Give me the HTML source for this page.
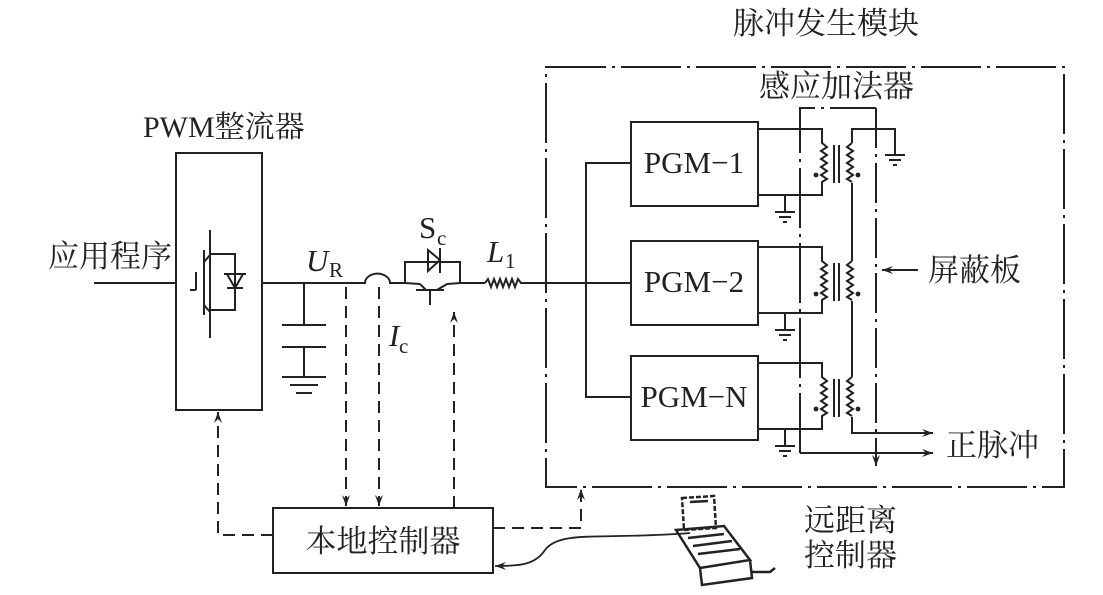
<!DOCTYPE html>
<html><head><meta charset="utf-8"><style>
html,body{margin:0;padding:0;background:#fff;width:1103px;height:595px;overflow:hidden}
svg{display:block}
.t{font-family:"Liberation Serif","Noto Serif CJK SC",serif;fill:#222}
.c{font-family:"Liberation Serif","Noto Serif CJK SC","Noto Sans CJK SC",serif;fill:#222}
</style></head><body>
<svg width="1103" height="595" viewBox="0 0 1103 595" xmlns="http://www.w3.org/2000/svg">
<defs>
<marker id="a" markerWidth="12" markerHeight="10" refX="11" refY="5" orient="auto" markerUnits="userSpaceOnUse"><path d="M0,1 L11,5 L0,9 L4,5 Z" fill="#222"/></marker>
</defs>
<g stroke="#222" stroke-width="2" fill="none">
<rect x="546" y="67" width="518" height="420" stroke-dasharray="60,6,3,6"/>
<rect x="176" y="153" width="86" height="257"/>
<line x1="94" y1="283" x2="176" y2="283"/>
<line x1="210" y1="230" x2="210" y2="338"/>
<line x1="204" y1="250" x2="204" y2="315"/>
<line x1="196" y1="272" x2="196" y2="290"/><line x1="190" y1="290" x2="196" y2="290"/>
<path d="M210 255 L204 262 M204 305 L210 312"/>
<path d="M210 254 L235 254 L235 310 L210 310"/>
<path d="M224 274 L246 274 M227 288 L243 288 M227 274 L235 288 L243 274"/>
<path d="M262 283 L365 283 A12 9 0 0 1 390 283 L405 283"/>
<line x1="304" y1="283" x2="304" y2="325"/>
<line x1="282" y1="325" x2="326" y2="325"/>
<line x1="282" y1="347" x2="326" y2="347"/>
<line x1="304" y1="347" x2="304" y2="377"/>
<line x1="282" y1="377" x2="326" y2="377"/>
<line x1="290" y1="385" x2="318" y2="385"/>
<line x1="296" y1="393" x2="312" y2="393"/>
<path d="M405 283 L405 262 L460 262 L460 283"/>
<path d="M416 290 L444 290 M430 290 L430 305 M420 284 L426 290 M437 290 L447 284"/>
<path d="M405 283 L420 284 M447 284 L460 283" />
<path d="M440 248 L440 273 M440 260 L428 250 L428 271 Z"/>
<line x1="460" y1="283" x2="485" y2="283"/>
<path d="M485 283 l3,-4 l3,8 l3,-8 l3,8 l3,-8 l3,8 l3,-8 l3,8 l3,-8 l3,8 l3,-8 l3,4 L546 283 L586 283"/>
<path d="M631 163 L586 163 L586 397 L631 397"/>
<line x1="586" y1="283" x2="631" y2="283"/>
<rect x="631" y="122" width="127" height="84"/>
<rect x="631" y="241" width="127" height="84"/>
<rect x="631" y="356" width="127" height="84"/>
</g>
<g stroke="#222" stroke-width="2" fill="none">
<g id="tr">
<path d="M758 129 L822 129 L822 143 l5,4 l-6,4 l6,4 l-6,4 l6,4 l-6,4 l6,4 l-6,4 l6,4 l-5,3 L822 195 L758 195"/>
<line x1="834" y1="145" x2="834" y2="183"/><line x1="839" y1="145" x2="839" y2="183"/>
<path d="M852 143 l-5,4 l6,4 l-6,4 l6,4 l-6,4 l6,4 l-6,4 l6,4 l-6,4 l5,3"/>
<line x1="785" y1="195" x2="785" y2="212"/>
<line x1="775" y1="212" x2="795" y2="212"/><line x1="779" y1="217" x2="791" y2="217"/><line x1="783" y1="222" x2="787" y2="222"/>
</g>
<use href="#tr" transform="translate(0,118)"/>
<use href="#tr" transform="translate(0,234)"/>
<path d="M852 143 L852 129 L895 129 L895 155"/>
<line x1="885" y1="155" x2="905" y2="155"/><line x1="889" y1="160" x2="901" y2="160"/><line x1="893" y1="165" x2="897" y2="165"/>
<line x1="852" y1="183" x2="852" y2="261"/>
<line x1="852" y1="301" x2="852" y2="377"/>
<path d="M852 417 L852 433 L933 433" marker-end="url(#a)"/>
<path d="M800 453 L800 108 L876 108" stroke-dasharray="60,6,3,6"/>
<path d="M876 108 L876 466" stroke-dasharray="40,6,3,6" marker-end="url(#a)"/>
<path d="M800 453 L933 453" marker-end="url(#a)"/>
<path d="M918 270 L882 270" marker-end="url(#a)"/>
</g>
<g fill="#222">
<circle cx="816" cy="175" r="2.4"/><circle cx="858" cy="175" r="2.4"/>
<circle cx="816" cy="294" r="2.4"/><circle cx="858" cy="294" r="2.4"/>
<circle cx="816" cy="409" r="2.4"/><circle cx="858" cy="409" r="2.4"/>
</g>
<g stroke="#222" stroke-width="2" fill="none" stroke-dasharray="12,7">
<path d="M346 287 L346 506" marker-end="url(#a)"/>
<path d="M379 287 L379 506" marker-end="url(#a)"/>
<path d="M454 508 L454 312" marker-end="url(#a)"/>
<path d="M273 535 L218 535 L218 412" marker-end="url(#a)"/>
<path d="M493 528 L581 528 L581 489" marker-end="url(#a)"/>
</g>
<rect x="273" y="508" width="220" height="65" fill="none" stroke="#222" stroke-width="2"/>
<text class="c" x="383" y="552" font-size="31" text-anchor="middle">本地控制器</text>
<path d="M690 533 C600 540 560 530 545 550 C535 565 520 566 495 566" fill="none" stroke="#222" stroke-width="1.8" marker-end="url(#a)"/>
<g stroke="#222" stroke-width="2.5" fill="none">
<path d="M682 498 L714 496 L716 528 L684 530 Z" stroke-dasharray="5,2"/>
<path d="M690 502 L708 501"/>
<path d="M676 530 L724 526 L750 560 L700 568 Z"/>
<path d="M688 538 L724 534 M693 546 L732 541 M698 554 L740 549"/>
<path d="M700 568 L702 585 L752 578 L750 560"/>
<path d="M752 572 L770 572 L775 568"/>
</g>
<text class="c" x="733" y="34" font-size="31">脉冲发生模块</text>
<text class="c" x="759" y="97" font-size="31">感应加法器</text>
<text class="c" x="143" y="137" font-size="30">PWM整流器</text>
<text class="c" x="48" y="267" font-size="31">应用程序</text>
<text class="c" x="928" y="281" font-size="31">屏蔽板</text>
<text class="c" x="946" y="456" font-size="31">正脉冲</text>
<text class="c" x="804" y="531" font-size="31">远距离</text>
<text class="c" x="804" y="566" font-size="31">控制器</text>
<text class="t" x="694" y="173" font-size="31" text-anchor="middle">PGM−1</text>
<text class="t" x="694" y="292" font-size="31" text-anchor="middle">PGM−2</text>
<text class="t" x="694" y="407" font-size="31" text-anchor="middle">PGM−N</text>
<text class="t" x="306" y="271" font-size="31" font-style="italic">U</text>
<text class="t" x="329" y="277" font-size="21">R</text>
<text class="t" x="389" y="346" font-size="31" font-style="italic">I</text>
<text class="t" x="399" y="353" font-size="21">c</text>
<text class="t" x="419" y="238" font-size="31">S</text>
<text class="t" x="437" y="245" font-size="21">c</text>
<text class="t" x="487" y="262" font-size="31" font-style="italic">L</text>
<text class="t" x="505" y="268" font-size="21">1</text>
</svg>
</body></html>
